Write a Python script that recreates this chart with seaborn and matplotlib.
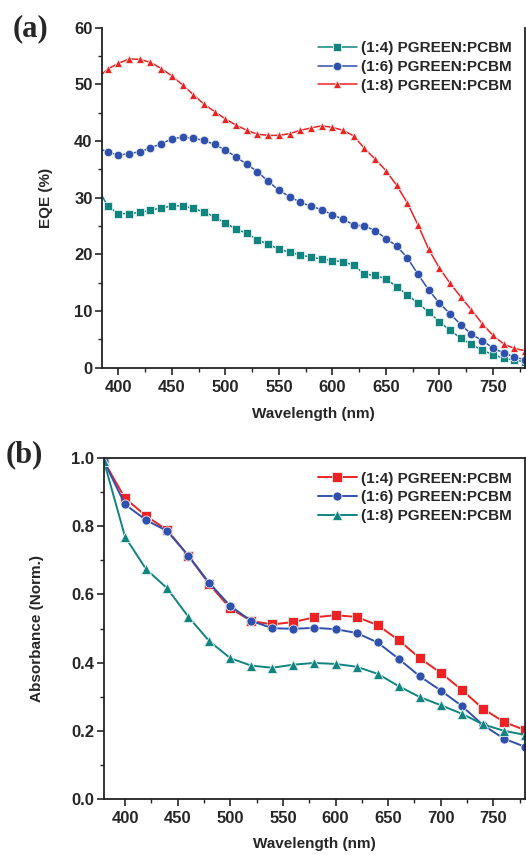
import numpy as np
import pandas as pd
import matplotlib
matplotlib.use("Agg")
import matplotlib.pyplot as plt
import seaborn as sns
from matplotlib.ticker import MultipleLocator

# EQE data, panel (a), every 10 nm
eqe_wl = list(range(380, 790, 10))
eqe_14 = [32.0, 28.5, 27.2, 27.2, 27.4, 27.8, 28.2, 28.5, 28.6, 28.1, 27.5, 26.6, 25.5,
          24.5, 23.7, 22.6, 21.8, 20.9, 20.4, 19.9, 19.5, 19.2, 18.9, 18.7, 18.1, 16.5,
          16.3, 15.7, 14.3, 12.9, 11.4, 9.8, 8.1, 6.6, 5.2, 4.1, 3.1, 2.3, 1.7, 1.3, 1.1]
eqe_16 = [38.8, 38.1, 37.5, 37.8, 38.1, 38.8, 39.5, 40.4, 40.7, 40.5, 40.1, 39.4, 38.4,
          37.2, 35.9, 34.6, 32.9, 31.3, 30.2, 29.2, 28.5, 27.9, 27.0, 26.2, 25.2, 25.0,
          24.2, 22.8, 21.5, 19.4, 16.5, 13.7, 11.4, 9.5, 7.6, 5.9, 4.8, 3.5, 2.6, 1.9, 1.4]
eqe_18 = [51.0, 52.7, 53.7, 54.5, 54.4, 53.9, 52.8, 51.5, 49.9, 48.2, 46.5, 45.2, 43.9,
          42.8, 41.9, 41.2, 41.0, 41.0, 41.3, 41.9, 42.3, 42.7, 42.4, 41.9, 40.9, 38.7,
          36.8, 34.8, 32.2, 29.1, 25.2, 20.9, 17.6, 14.9, 12.5, 10.2, 7.8, 5.7, 4.2, 3.4, 3.0]

# Absorbance data, panel (b), every 20 nm
abs_wl = list(range(380, 790, 20))
abs_14 = [0.99, 0.882, 0.830, 0.789, 0.714, 0.630, 0.559, 0.522, 0.512, 0.519, 0.533,
          0.539, 0.534, 0.510, 0.466, 0.413, 0.370, 0.320, 0.265, 0.226, 0.202]
abs_16 = [0.99, 0.864, 0.818, 0.786, 0.714, 0.634, 0.566, 0.522, 0.501, 0.499, 0.502,
          0.498, 0.487, 0.459, 0.411, 0.360, 0.318, 0.273, 0.217, 0.177, 0.153]
abs_18 = [0.99, 0.769, 0.674, 0.618, 0.535, 0.463, 0.413, 0.391, 0.385, 0.394, 0.399,
          0.396, 0.388, 0.367, 0.331, 0.299, 0.275, 0.250, 0.219, 0.200, 0.188]

labels = ["(1:4) PGREEN:PCBM", "(1:6) PGREEN:PCBM", "(1:8) PGREEN:PCBM"]
teal = "#108580"
blue = "#3050ad"
red = "#ee2222"

sns.set_style("ticks")
plt.rcParams['font.family'] = ['Liberation Sans', 'DejaVu Sans']
plt.rcParams['font.weight'] = 'bold'
plt.rcParams['axes.labelweight'] = 'bold'

fig = plt.figure(figsize=(5.26, 8.55), dpi=100)
ax1 = fig.add_axes([0.1945, 0.5699, 0.8036, 0.3977])
ax2 = fig.add_axes([0.1977, 0.0655, 0.8004, 0.3988])

#panel (a): EQE
eqe = pd.DataFrame({"wl": eqe_wl, "s14": eqe_14, "s16": eqe_16, "s18": eqe_18})
for col, lab, c, m, ms in [("s14", labels[0], teal, "s", 5.2),
                           ("s16", labels[1], blue, "o", 6.2),
                           ("s18", labels[2], red, "^", 6.4)]:
    sns.lineplot(data=eqe, x="wl", y=col, ax=ax1, color=c, marker=m, markersize=ms,
                 linewidth=1.1, label=lab, markeredgecolor="#e8f0f0", markeredgewidth=0.6)
ax1.set_xlim(385, 780)
ax1.set_ylim(0, 60)
ax1.set_ylabel("EQE (%)", fontsize=11)
ax1.set_xlabel("Wavelength (nm)", fontsize=11)
ax1.spines['top'].set_visible(False)

#panel (b): absorbance
ab = pd.DataFrame({"wl": abs_wl, "s14": abs_14, "s16": abs_16, "s18": abs_18})
for col, lab, c, m in [("s14", labels[0], red, "s"),
                       ("s16", labels[1], blue, "o"),
                       ("s18", labels[2], teal, "^")]:
    sns.lineplot(data=ab, x="wl", y=col, ax=ax2, color=c, marker=m, markersize=6.5,
                 linewidth=1.4, label=lab, markeredgecolor="#e8f0f0", markeredgewidth=0.6)
ax2.set_xlim(380, 780)
ax2.set_ylim(0, 1.0)
ax2.set_ylabel("Absorbance (Norm.)", fontsize=11)
ax2.set_xlabel("Wavelength (nm)", fontsize=11)

for ax, ymaj, ymin in [(ax1, 10, 5), (ax2, 0.2, 0.1)]:
    ax.xaxis.set_major_locator(MultipleLocator(50))
    ax.xaxis.set_minor_locator(MultipleLocator(25))
    ax.yaxis.set_major_locator(MultipleLocator(ymaj))
    ax.yaxis.set_minor_locator(MultipleLocator(ymin))
    ax.tick_params(which='major', direction='out', length=5, width=1.2, labelsize=12, pad=2)
    ax.tick_params(axis='x', which='major', pad=4)
    ax.tick_params(which='minor', direction='out', length=3, width=1.0)
    for s in ax.spines.values():
        s.set_linewidth(1.3)
        s.set_color('#222222')
    for t in ax.get_xticklabels() + ax.get_yticklabels():
        t.set_fontweight('bold')
    ax.legend(loc='upper right', frameon=False, fontsize=11, handlelength=2.5,
              handletextpad=0.26, labelspacing=0.3, borderaxespad=0.5)

ax1.xaxis.set_label_coords(0.5, -0.115)
ax2.xaxis.set_label_coords(0.5, -0.111)
ax1.yaxis.set_label_coords(-0.117, 0.5)
ax2.yaxis.set_label_coords(-0.143, 0.5)

fig.text(0.0247, 0.9667, "(a)", fontsize=22, fontweight='bold', family='Liberation Serif',
         va='center')
fig.text(0.0114, 0.4678, "(b)", fontsize=22, fontweight='bold', family='Liberation Serif',
         va='center')

fig.savefig("out.png", dpi=100)
